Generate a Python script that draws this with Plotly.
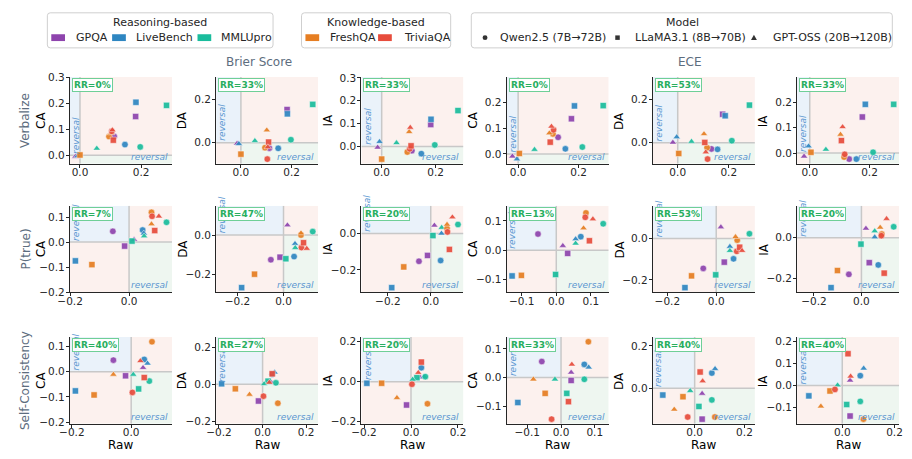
import plotly.graph_objects as go

W, H = 912, 459

# ---------------- data ----------------
datasets = ["GPQA", "LiveBench", "MMLUpro", "FreshQA", "TriviaQA"]
dataset_colors = ["#8e44ad", "#2e86c1", "#1abc9c", "#e67e22", "#e74c3c"]
group_titles = ["Reasoning-based", "Knowledge-based"]
group_members = [[0, 1, 2], [3, 4]]
models = ["Qwen2.5 (7B→72B)", "LLaMA3.1 (8B→70B)", "GPT-OSS (20B→120B)"]
model_symbols = ["circle", "square", "triangle-up"]
methods = ["Verbalize", "P(true)", "Self-Consistency"]
metrics = ["Brier Score", "ECE"]
targets = ["CA", "DA", "IA"]

# each array: rows = datasets (GPQA, LiveBench, MMLUpro, FreshQA, TriviaQA),
# cols = models (Qwen2.5, LLaMA3.1, GPT-OSS)
verbalize_brier_raw = [[0.112, 0.182, -0.015], [0.147, 0.183, -0.008], [0.197, 0.283, 0.055],
                       [0.095, 0.000, 0.102], [0.104, 0.109, 0.106]]
verbalize_brier_ca = [[0.072, 0.149, -0.005], [0.041, 0.204, -0.003], [0.032, 0.192, 0.026],
                      [0.072, 0.001, 0.085], [0.092, 0.058, 0.097]]
verbalize_brier_da = [[-0.025, 0.154, -0.003], [-0.026, 0.134, -0.005], [0.014, 0.178, 0.009],
                      [-0.023, -0.053, 0.058], [-0.076, 0.003, -0.020]]
verbalize_brier_ia = [[-0.018, 0.096, -0.004], [-0.031, 0.119, 0.021], [0.007, 0.157, 0.016],
                      [-0.024, -0.055, 0.064], [-0.010, 0.003, 0.083]]

verbalize_ece_raw = [[0.132, 0.176, -0.019], [0.156, 0.186, -0.004], [0.212, 0.281, 0.054],
                     [0.115, 0.004, 0.103], [0.117, 0.106, 0.110]]
verbalize_ece_ca = [[0.065, 0.137, -0.009], [0.020, 0.187, -0.020], [0.027, 0.188, 0.017],
                    [0.078, 0.002, 0.081], [0.094, 0.046, 0.107]]
verbalize_ece_da = [[-0.029, 0.131, 0.001], [-0.031, 0.124, 0.026], [0.009, 0.173, 0.005],
                    [-0.023, -0.050, 0.040], [-0.076, 0.001, -0.044]]
verbalize_ece_ia = [[-0.024, 0.142, -0.013], [-0.024, 0.192, 0.027], [0.003, 0.192, 0.014],
                    [-0.016, 0.003, 0.073], [-0.005, 0.049, 0.103]]

ptrue_brier_raw = [[-0.055, -0.015, 0.017], [0.046, -0.182, 0.050], [0.127, 0.010, 0.051],
                   [0.076, -0.126, 0.076], [0.078, 0.087, 0.101]]
ptrue_brier_ca = [[0.043, -0.016, 0.010], [0.048, -0.075, 0.035], [0.079, 0.004, 0.024],
                  [0.119, -0.090, 0.072], [0.103, 0.046, 0.103]]
ptrue_brier_da = [[-0.126, -0.113, 0.051], [-0.110, -0.269, -0.044], [0.018, -0.121, -0.065],
                  [0.000, -0.200, 0.010], [-0.064, -0.039, -0.069]]
ptrue_brier_ia = [[-0.153, -0.121, 0.044], [-0.149, -0.298, 0.000], [0.049, -0.012, 0.032],
                  [0.028, -0.184, 0.049], [0.008, -0.088, 0.089]]

ptrue_ece_raw = [[-0.053, 0.033, 0.019], [0.071, -0.128, 0.056], [0.136, -0.002, 0.056],
                 [0.086, -0.101, 0.079], [0.084, 0.096, 0.106]]
ptrue_ece_ca = [[0.055, -0.011, 0.015], [0.046, -0.088, 0.038], [0.090, -0.083, 0.023],
                [0.127, -0.086, 0.075], [0.112, 0.032, 0.106]]
ptrue_ece_da = [[-0.144, -0.114, 0.055], [-0.098, -0.237, -0.039], [0.023, -0.175, -0.059],
                [-0.008, -0.180, 0.008], [-0.062, -0.042, -0.059]]
ptrue_ece_ia = [[-0.182, -0.124, 0.046], [-0.135, -0.248, 0.003], [0.054, -0.032, 0.033],
                [0.018, -0.163, 0.051], [0.010, -0.176, 0.094]]

sc_brier_raw = [[-0.060, -0.019, 0.040], [0.044, -0.188, 0.055], [0.061, 0.025, 0.007],
                [0.070, -0.125, -0.060], [0.004, 0.044, 0.031]]
sc_brier_ca = [[0.046, -0.016, 0.016], [0.049, -0.076, 0.033], [-0.037, -0.068, -0.011],
               [0.119, -0.092, -0.011], [-0.082, -0.023, 0.043]]
sc_brier_da = [[0.230, -0.090, 0.010], [0.055, 0.003, 0.065], [0.008, 0.017, 0.002],
               [-0.102, -0.024, -0.055], [-0.064, 0.057, 0.010]]
sc_brier_ia = [[0.200, -0.117, 0.021], [0.070, -0.008, 0.025], [0.025, 0.020, 0.011],
               [-0.111, -0.008, -0.081], [-0.013, 0.098, 0.045]]

sc_ece_raw = [[-0.057, 0.030, 0.030], [0.069, -0.128, 0.082], [0.069, 0.017, -0.018],
              [0.081, -0.047, -0.082], [-0.028, 0.022, 0.032]]
sc_ece_ca = [[0.056, -0.010, 0.018], [0.046, -0.087, 0.036], [-0.006, -0.055, -0.006],
             [0.125, -0.055, -0.006], [-0.145, -0.084, 0.046]]
sc_ece_da = [[0.220, -0.146, -0.025], [0.072, -0.032, 0.092], [-0.055, -0.086, -0.012],
             [-0.136, -0.040, -0.100], [-0.136, 0.077, 0.034]]
sc_ece_ia = [[0.197, -0.138, 0.023], [0.044, -0.047, 0.077], [-0.072, -0.086, 0.001],
             [-0.152, -0.025, -0.094], [-0.018, 0.143, 0.041]]

rr_verbalize = ["0%", "33%", "33%", "0%", "53%", "33%"]
rr_ptrue = ["7%", "47%", "20%", "13%", "53%", "20%"]
rr_sc = ["40%", "27%", "20%", "33%", "40%", "40%"]

raw_grid = [[verbalize_brier_raw, verbalize_ece_raw],
            [ptrue_brier_raw, ptrue_ece_raw],
            [sc_brier_raw, sc_ece_raw]]
value_grid = [[verbalize_brier_ca, verbalize_brier_da, verbalize_brier_ia,
               verbalize_ece_ca, verbalize_ece_da, verbalize_ece_ia],
              [ptrue_brier_ca, ptrue_brier_da, ptrue_brier_ia,
               ptrue_ece_ca, ptrue_ece_da, ptrue_ece_ia],
              [sc_brier_ca, sc_brier_da, sc_brier_ia,
               sc_ece_ca, sc_ece_da, sc_ece_ia]]
rr_grid = [rr_verbalize, rr_ptrue, rr_sc]

# ---------------- style ----------------
FONT = "DejaVu Sans"
col_left = [58, 207, 355, 503, 652, 799]
row_top = [73, 205, 340]
PW, PH = 104, 89
x_dtick = [[0.2, 0.2, 0.2, 0.2, 0.2, 0.2],
           [0.2, 0.2, 0.2, 0.1, 0.2, 0.2],
           [0.2, 0.2, 0.2, 0.1, 0.2, 0.2]]
y_dtick = [[0.1, 0.2, 0.1, 0.1, 0.2, 0.1],
           [0.1, 0.2, 0.2, 0.1, 0.2, 0.2],
           [0.1, 0.2, 0.2, 0.1, 0.2, 0.1]]
marker_size = {"circle": 6.5, "square": 6.2, "triangle-up": 6.5}
C_PINK = "#fcf1ee"
C_BLUE = "#eaf2fa"
C_GREEN = "#eef6f0"
C_ZERO = "#c8c8c8"
C_REV = "#5b97d1"
C_RR = "#27ae60"
C_LABEL = "#5d6d7e"
INK = "#262626"


def px(x):
    return x / W


def py(y):
    return 1 - y / H


fig = go.Figure()
layout = dict(
    width=W, height=H, margin=dict(l=0, r=0, t=0, b=0),
    paper_bgcolor="white", plot_bgcolor="white", showlegend=False,
    font=dict(family=FONT, size=11, color=INK),
)
shapes = []
annotations = []

for r in range(3):
    for c in range(6):
        n = r * 6 + c + 1
        sfx = "" if n == 1 else str(n)
        xr, yr = "x" + sfx, "y" + sfx
        xs = raw_grid[r][c // 3]
        ys = value_grid[r][c]
        allv = [v for row in xs for v in row] + [v for row in ys for v in row]
        lo, hi = min(allv), max(allv)
        pad = 0.06 * (hi - lo)
        lo, hi = lo - pad, hi + pad

        L, T = col_left[c], row_top[r]
        common = dict(showline=True, linecolor=INK, linewidth=1.2, ticks="outside",
                      ticklen=3, tickwidth=1, tickcolor=INK, showgrid=False,
                      zeroline=False, tickformat=".1f", tick0=0, fixedrange=True,
                      tickfont=dict(family=FONT, size=10.5, color=INK), range=[lo, hi])
        layout["xaxis" + sfx] = dict(common, domain=[px(L), px(L + PW)], anchor=yr,
                                     dtick=x_dtick[r][c], ticklabelstandoff=-4)
        layout["yaxis" + sfx] = dict(common, domain=[py(T + PH), py(T)], anchor=xr,
                                     dtick=y_dtick[r][c], ticklabelstandoff=-1)

        # quadrant shading
        for (x0, x1, y0, y1, col) in [(lo, 0, 0, hi, C_BLUE), (0, hi, lo, 0, C_GREEN),
                                      (0, hi, 0, hi, C_PINK), (lo, 0, lo, 0, C_PINK)]:
            shapes.append(dict(type="rect", xref=xr, yref=yr, x0=x0, x1=x1, y0=y0, y1=y1,
                               fillcolor=col, line=dict(width=0), layer="below"))
        shapes.append(dict(type="line", xref=xr, yref=yr, x0=0, x1=0, y0=lo, y1=hi,
                           line=dict(color=C_ZERO, width=1.5), layer="below"))
        shapes.append(dict(type="line", xref=xr, yref=yr, x0=lo, x1=hi, y0=0, y1=0,
                           line=dict(color=C_ZERO, width=1.5), layer="below"))

        # points
        for d, name in enumerate(datasets):
            fig.add_trace(go.Scatter(
                x=xs[d], y=ys[d], mode="markers", name=name, xaxis=xr, yaxis=yr,
                marker=dict(color=dataset_colors[d], symbol=model_symbols,
                            size=[marker_size[s] for s in model_symbols],
                            opacity=0.92, line=dict(color="white", width=0.5)),
                hovertext=models, showlegend=False))

        # reversal labels
        annotations.append(dict(xref=xr + " domain", yref=yr, x=6 / PW, y=0,
                                xanchor="center", yanchor="middle", yshift=20,
                                text="<i>reversal</i>", textangle=-90, showarrow=False,
                                font=dict(family=FONT, size=9, color=C_REV)))
        annotations.append(dict(xref=xr + " domain", yref=yr + " domain",
                                x=1 - 2 / PW, y=0, xanchor="right", yanchor="bottom",
                                text="<i>reversal</i>", showarrow=False,
                                font=dict(family=FONT, size=9, color=C_REV)))
        # RR box
        annotations.append(dict(xref=xr + " domain", yref=yr + " domain",
                                x=2 / PW, y=1 - 1 / PH, xanchor="left", yanchor="top",
                                text="<b>RR=%s</b>" % rr_grid[r][c], showarrow=False,
                                font=dict(family=FONT, size=9, color=C_RR),
                                bgcolor="rgba(255,255,255,0.9)", bordercolor="#6fcf97",
                                borderwidth=1, borderpad=1))

        # axis titles
        ytxt = targets[c % 3]
        if c == 0:
            ytxt = "<span style='color:%s'>%s</span><br>%s" % (C_LABEL, methods[r], ytxt)
            annotations.append(dict(xref="paper", yref="paper", x=px(L - 37), y=py(T + PH / 2),
                                    xanchor="center", yanchor="middle", text=ytxt,
                                    textangle=-90, showarrow=False,
                                    font=dict(family=FONT, size=12, color="black")))
        else:
            annotations.append(dict(xref="paper", yref="paper", x=px(L - 34), y=py(T + PH / 2),
                                    xanchor="center", yanchor="middle", text=ytxt,
                                    textangle=-90, showarrow=False,
                                    font=dict(family=FONT, size=12, color="black")))
        if r == 2:
            annotations.append(dict(xref="paper", yref="paper", x=px(L + PW / 2), y=0,
                                    xanchor="center", yanchor="bottom", yshift=1, text="Raw",
                                    showarrow=False, borderpad=0, borderwidth=0,
                                    font=dict(family=FONT, size=12, color="black")))

# metric titles
for m, cx in zip(metrics, [251, 690]):
    annotations.append(dict(xref="paper", yref="paper", x=px(cx), y=py(58),
                            xanchor="center", yanchor="middle", text=m, showarrow=False,
                            font=dict(family=FONT, size=12, color=C_LABEL)))


# ---------------- legend (drawn) ----------------
def rounded_box(x0, y0, x1, y1, rad=3):
    X0, X1 = px(x0), px(x1)
    YT, YB = py(y0), py(y1)
    rx, ry = rad / W, rad / H
    path = (f"M {X0+rx},{YT} L {X1-rx},{YT} Q {X1},{YT} {X1},{YT-ry} "
            f"L {X1},{YB+ry} Q {X1},{YB} {X1-rx},{YB} L {X0+rx},{YB} "
            f"Q {X0},{YB} {X0},{YB+ry} L {X0},{YT-ry} Q {X0},{YT} {X0+rx},{YT} Z")
    return dict(type="path", xref="paper", yref="paper", path=path,
                fillcolor="white", line=dict(color="#cfcfcf", width=1), layer="above")


def text_at(x, y, t, anchor="left", size=11):
    return dict(xref="paper", yref="paper", x=px(x), y=py(y), xanchor=anchor,
                yanchor="middle", text=t, showarrow=False,
                font=dict(family=FONT, size=size, color=INK))


legend_boxes = [(35, 7, 265, 43), (294, 7, 446, 43), (467, 7, 896, 43)]
legend_title_x = [150, 370, 682]
item_y = 32.5
patch_x = [[39, 101, 188], [298, 372]]
label_x = [[62, 123, 210], [321, 396]]

for g in range(2):
    shapes.append(rounded_box(*legend_boxes[g]))
    annotations.append(text_at(legend_title_x[g], 16.5, group_titles[g], "center"))
    for k, d in enumerate(group_members[g]):
        x0 = patch_x[g][k]
        shapes.append(dict(type="rect", xref="paper", yref="paper",
                           x0=px(x0), x1=px(x0 + 14), y0=py(item_y + 3.5), y1=py(item_y - 3.5),
                           fillcolor=dataset_colors[d], line=dict(width=0), layer="above"))
        annotations.append(text_at(label_x[g][k], item_y, datasets[d]))

shapes.append(rounded_box(*legend_boxes[2]))
annotations.append(text_at(legend_title_x[2], 16.5, "Model", "center"))
model_marker_x = [481, 616, 755]
model_label_x = [494, 632, 772]
for k in range(3):
    cx = model_marker_x[k]
    s = model_symbols[k]
    if s == "circle":
        shapes.append(dict(type="circle", xref="paper", yref="paper",
                           x0=px(cx - 2.5), x1=px(cx + 2.5), y0=py(item_y + 2.5), y1=py(item_y - 2.5),
                           fillcolor="#333333", line=dict(width=0), layer="above"))
    elif s == "square":
        shapes.append(dict(type="rect", xref="paper", yref="paper",
                           x0=px(cx - 2.3), x1=px(cx + 2.3), y0=py(item_y + 2.3), y1=py(item_y - 2.3),
                           fillcolor="#333333", line=dict(width=0), layer="above"))
    else:
        path = (f"M {px(cx-3)},{py(item_y+2.5)} L {px(cx+3)},{py(item_y+2.5)} "
                f"L {px(cx)},{py(item_y-3)} Z")
        shapes.append(dict(type="path", xref="paper", yref="paper", path=path,
                           fillcolor="#333333", line=dict(width=0), layer="above"))
    annotations.append(text_at(model_label_x[k], item_y, models[k]))

layout["shapes"] = shapes
layout["annotations"] = annotations
fig.update_layout(**layout)
fig.write_html("out.html",
               post_script="document.body.style.margin='0px';"
                           "document.body.style.overflow='hidden';")
